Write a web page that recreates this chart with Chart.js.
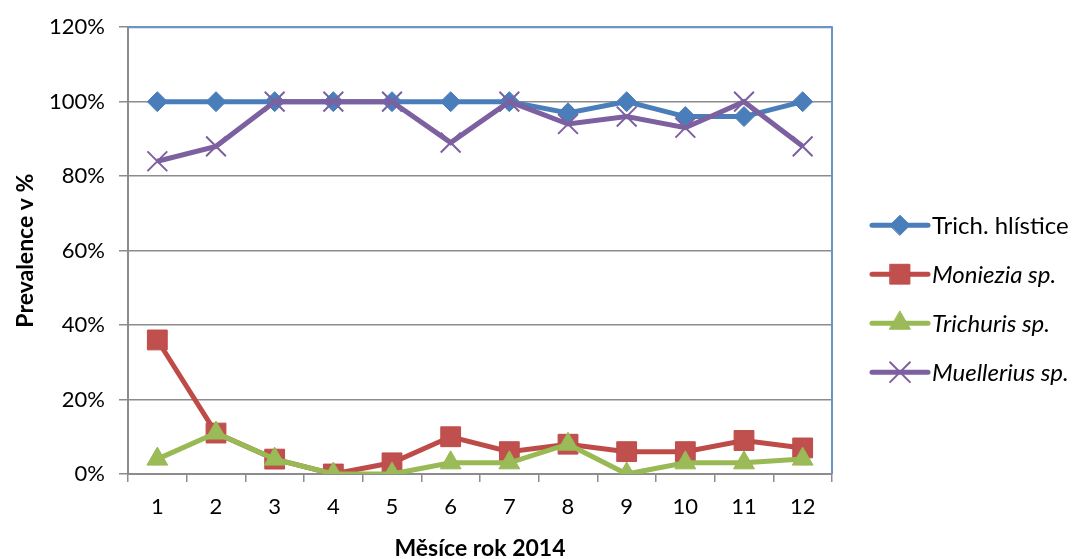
<!DOCTYPE html>
<html>
<head>
<meta charset="utf-8">
<script src="https://cdn.jsdelivr.net/npm/chart.js@4/dist/chart.umd.min.js"></script>
<style>
  html, body { margin: 0; padding: 0; background: #ffffff; }
  #wrap { width: 1082px; height: 559px; position: relative; }
</style>
</head>
<body>
<div id="wrap"><canvas id="c" width="1082" height="559"></canvas></div>
<script>
// Months of 2014
const months = ['1', '2', '3', '4', '5', '6', '7', '8', '9', '10', '11', '12'];

// Prevalence (%) per parasite group
const trichHlistice = [100, 100, 100, 100, 100, 100, 100, 97, 100, 96, 96, 100];
const moniezia      = [36, 11, 4, 0, 3, 10, 6, 8, 6, 6, 9, 7];
const trichuris     = [4, 11, 4, 0, 0, 3, 3, 8, 0, 3, 3, 4];
const muellerius    = [84, 88, 100, 100, 100, 89, 100, 94, 96, 93, 100, 88];

const seriesNames = ['Trich. hlístice', 'Moniezia sp.', 'Trichuris sp.', 'Muellerius sp.'];

// Y axis range and step (%)
const yMin = 0;
const yMax = 120;
const yStep = 20;

const FONT = 'Lato, "Open Sans", sans-serif';
const GRID = '#8c8c8c';

// Right-hand legend: a line segment with the series marker, then the name
const sideLegend = {
  id: 'sideLegend',
  afterDraw(chart) {
    const ctx = chart.ctx;
    const area = chart.chartArea;
    const x0 = area.right + 40;
    const x1 = x0 + 56;
    const top = area.top + 198;
    const gap = 49;
    chart.data.datasets.forEach((ds, i) => {
      const y = top + i * gap;
      ctx.save();
      ctx.strokeStyle = ds.borderColor;
      ctx.lineWidth = ds.borderWidth;
      ctx.lineCap = 'round';
      ctx.beginPath();
      ctx.moveTo(x0, y);
      ctx.lineTo(x1, y);
      ctx.stroke();
      ctx.fillStyle = ds.pointBackgroundColor;
      ctx.strokeStyle = ds.pointBorderColor;
      ctx.lineWidth = ds.pointBorderWidth;
      Chart.helpers.drawPoint(ctx, {
        pointStyle: ds.pointStyle,
        radius: ds.pointRadius,
        rotation: 0,
        borderWidth: ds.pointBorderWidth
      }, (x0 + x1) / 2, y);
      ctx.fillStyle = '#000000';
      ctx.font = (i > 0 ? 'italic ' : '') + '24px ' + FONT;
      ctx.textBaseline = 'middle';
      ctx.textAlign = 'left';
      ctx.fillText(ds.label, x1 + 4, y + 1);
      ctx.restore();
    });
  }
};

// Top and right edges of the plot area
const plotFrame = {
  id: 'plotFrame',
  afterDatasetsDraw(chart) {
    const ctx = chart.ctx;
    const a = chart.chartArea;
    ctx.save();
    ctx.strokeStyle = '#6c93c8';
    ctx.lineWidth = 2;
    ctx.beginPath();
    ctx.moveTo(a.left, a.top);
    ctx.lineTo(a.right, a.top);
    ctx.lineTo(a.right, a.bottom);
    ctx.stroke();
    ctx.restore();
  }
};

function series(label, data, color, fill, style, radius, bw, order) {
  return {
    label: label,
    data: data,
    borderColor: color,
    backgroundColor: color,
    borderWidth: 5,
    pointStyle: style,
    pointRadius: radius,
    pointHoverRadius: radius,
    pointBackgroundColor: fill,
    pointBorderColor: color,
    pointBorderWidth: bw,
    tension: 0,
    fill: false,
    order: order
  };
}

new Chart(document.getElementById('c'), {
  type: 'line',
  data: {
    labels: months,
    datasets: [
      series(seriesNames[0], trichHlistice, '#4a7ebb', '#4a7ebb', 'rectRot', 10, 1, 4),
      series(seriesNames[1], moniezia, '#be4b48', '#c0504d', 'rect', 14, 1, 3),
      series(seriesNames[2], trichuris, '#98b954', '#9bbb59', 'triangle', 12, 1, 2),
      series(seriesNames[3], muellerius, '#7d60a0', '#7d60a0', 'crossRot', 14, 2, 1)
    ]
  },
  options: {
    responsive: false,
    animation: false,
    events: [],
    layout: { padding: { top: 25, right: 250, left: 0, bottom: 0 } },
    plugins: {
      legend: { display: false },
      tooltip: { enabled: false }
    },
    scales: {
      x: {
        offset: true,
        grid: {
          offset: true,
          drawOnChartArea: false,
          drawTicks: true,
          tickLength: 8,
          color: GRID,
          lineWidth: 1.5
        },
        border: { color: GRID, width: 2 },
        ticks: {
          color: '#000000',
          font: { family: FONT, size: 22 },
          padding: 12,
          maxRotation: 0
        },
        title: {
          display: true,
          text: 'Měsíce rok 2014',
          color: '#000000',
          font: { family: FONT, size: 23, weight: 'bold' },
          padding: { top: 0, bottom: -3 }
        },
        afterFit(scale) { scale.height = 85; }
      },
      y: {
        min: yMin,
        max: yMax,
        ticks: {
          stepSize: yStep,
          color: '#000000',
          font: { family: FONT, size: 22 },
          padding: 14,
          callback: v => v + '%'
        },
        grid: {
          color: GRID,
          lineWidth: 1.5,
          tickLength: 9
        },
        border: { color: GRID, width: 2 },
        title: {
          display: true,
          text: 'Prevalence v %',
          color: '#000000',
          font: { family: FONT, size: 23, weight: 'bold' },
          padding: { top: 12, bottom: 0 }
        },
        afterFit(scale) { scale.width = 128; }
      }
    }
  },
  plugins: [plotFrame, sideLegend]
});
</script>
</body>
</html>
